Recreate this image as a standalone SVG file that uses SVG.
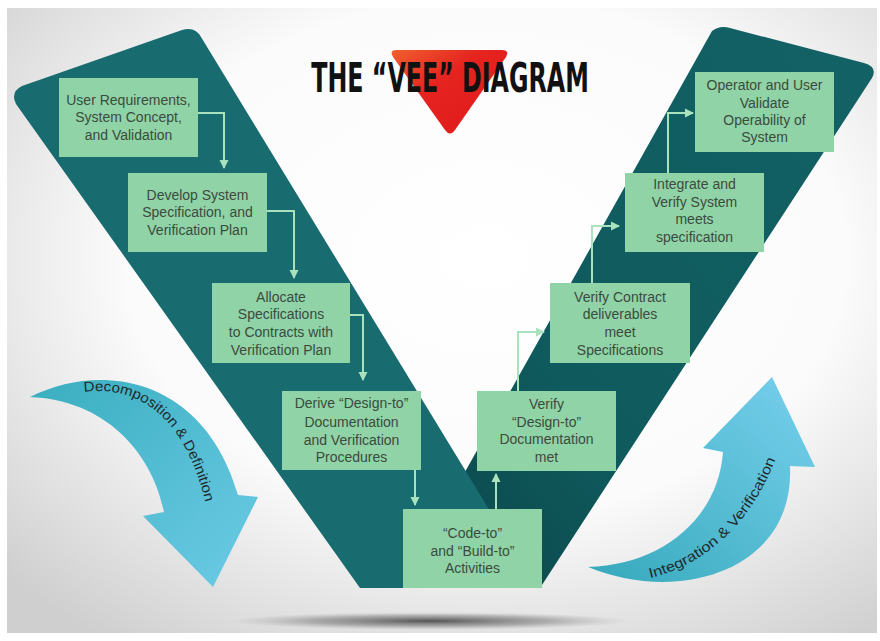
<svg xmlns="http://www.w3.org/2000/svg" width="880" height="641" viewBox="0 0 880 641">
<defs>
<radialGradient id="bg" cx="0.55" cy="0.4" r="0.75">
<stop offset="0" stop-color="#ffffff"/>
<stop offset="0.55" stop-color="#fbfbfb"/>
<stop offset="1" stop-color="#cfcfcf"/>
</radialGradient>
<radialGradient id="shadow" cx="0.5" cy="0.5" r="0.5">
<stop offset="0" stop-color="#3a3a3a" stop-opacity="0.85"/>
<stop offset="0.6" stop-color="#6a6a6a" stop-opacity="0.45"/>
<stop offset="1" stop-color="#999" stop-opacity="0"/>
</radialGradient>
<linearGradient id="rband" x1="0" y1="1" x2="1" y2="0">
<stop offset="0" stop-color="#0b4447"/>
<stop offset="0.35" stop-color="#0f5a5d"/>
<stop offset="1" stop-color="#136266"/>
</linearGradient>
<linearGradient id="red" x1="0" y1="0" x2="1" y2="1">
<stop offset="0" stop-color="#f0602e"/>
<stop offset="0.4" stop-color="#e5231f"/>
<stop offset="1" stop-color="#e01a1a"/>
</linearGradient>
<linearGradient id="decArrow" x1="0" y1="0" x2="1" y2="1">
<stop offset="0" stop-color="#3aaebf"/>
<stop offset="1" stop-color="#6ccbe6"/>
</linearGradient>
<linearGradient id="intArrow" x1="0" y1="1" x2="1" y2="0">
<stop offset="0" stop-color="#36a9bb"/>
<stop offset="1" stop-color="#78d0ee"/>
</linearGradient>
<marker id="ah" markerWidth="10" markerHeight="10" refX="8" refY="5" orient="auto" markerUnits="userSpaceOnUse">
<path d="M0,0.5 L9,5 L0,9.5 Z" fill="#a9e2bd"/>
</marker>
<path id="decPath" d="M84,392 C145,384 190,425 208,514"/>
<path id="intPath" d="M650,578 C705,565 763,520 786,425"/>
<style>
.box{fill:#90d3a6;}
.bt{font-family:"Liberation Sans","DejaVu Sans",sans-serif;font-size:14px;fill:#3b4b3e;text-anchor:middle;}
.conn{fill:none;stroke:#a9e2bd;stroke-width:2;marker-end:url(#ah);}
.at{font-family:"Liberation Sans","DejaVu Sans",sans-serif;font-size:14px;fill:#1e2a2c;}
</style>
</defs>

<rect x="0" y="0" width="880" height="641" fill="#ffffff"/>
<rect x="7" y="8" width="870" height="625" fill="url(#bg)"/>
<ellipse cx="430" cy="621" rx="200" ry="9" fill="url(#shadow)"/>

<g id="title">
<path d="M396,50 L502,50 Q510,50 506,57 L455,130 Q450,137 445,130 L393,57 Q389,50 396,50 Z" fill="url(#red)"/>
<text transform="translate(450,92) scale(0.66,1)" x="0" y="0" text-anchor="middle" style="font-family:'DejaVu Sans Condensed','Liberation Sans',sans-serif;font-weight:bold;font-size:40px;fill:#111;">THE “VEE” DIAGRAM</text>
</g>

<g id="right-band">
<path d="M712,31 Q720,25 730,28 L864,63 Q878,67 872,78 L540,588 L400,588 Z" fill="url(#rband)"/>
</g>
<g id="left-band">
<path d="M22,86 L182,30 Q195,26 201,37 L537,588 L360,588 L16,104 Q10,92 22,86 Z" fill="#186b6e"/>
</g>

<g id="decomposition-arrow">
<path d="M30,397 C105,360 205,380 238,495 L258,497 L213,587 L143,516 L164,512 C152,452 105,400 30,397 Z" fill="url(#decArrow)"/>
<text class="at"><textPath href="#decPath" textLength="182" lengthAdjust="spacingAndGlyphs">Decomposition &amp; Definition</textPath></text>
</g>

<g id="integration-arrow">
<path d="M588,567 C680,605 795,570 790,466 L815,467 L772,377 L703,448 L723,452 C718,520 660,565 588,567 Z" fill="url(#intArrow)"/>
<text class="at"><textPath href="#intPath" textLength="180" lengthAdjust="spacingAndGlyphs">Integration &amp; Verification</textPath></text>
</g>

<g id="connectors">
<path class="conn" d="M198,113 H224 V168"/>
<path class="conn" d="M267,211 H294 V278"/>
<path class="conn" d="M350,315 H363 V380"/>
<path class="conn" d="M415,470 V505"/>
<path class="conn" d="M496,509 V474"/>
<path class="conn" d="M518,391 V332 H544"/>
<path class="conn" d="M592,283 V226 H619"/>
<path class="conn" d="M668,173 V113 H693"/>
</g>

<g id="n1">
<rect class="box" x="59" y="78" width="139" height="79"/>
<text class="bt" x="128.5" y="105">User Requirements,</text>
<text class="bt" x="128.5" y="122">System Concept,</text>
<text class="bt" x="128.5" y="140">and Validation</text>
</g>
<g id="n2">
<rect class="box" x="128" y="173" width="139" height="79"/>
<text class="bt" x="197.5" y="200">Develop System</text>
<text class="bt" x="197.5" y="217">Specification, and</text>
<text class="bt" x="197.5" y="235">Verification Plan</text>
</g>
<g id="n3">
<rect class="box" x="212" y="283" width="138" height="80"/>
<text class="bt" x="281" y="302">Allocate</text>
<text class="bt" x="281" y="319">Specifications</text>
<text class="bt" x="281" y="337">to Contracts with</text>
<text class="bt" x="281" y="355">Verification Plan</text>
</g>
<g id="n4">
<rect class="box" x="282" y="391" width="139" height="79"/>
<text class="bt" x="351.5" y="408">Derive “Design-to”</text>
<text class="bt" x="351.5" y="427">Documentation</text>
<text class="bt" x="351.5" y="445">and Verification</text>
<text class="bt" x="351.5" y="462">Procedures</text>
</g>
<g id="n5">
<rect class="box" x="403" y="509" width="139" height="79"/>
<text class="bt" x="472.5" y="538">“Code-to”</text>
<text class="bt" x="472.5" y="556">and “Build-to”</text>
<text class="bt" x="472.5" y="573">Activities</text>
</g>
<g id="n6">
<rect class="box" x="477" y="391" width="139" height="80"/>
<text class="bt" x="546.5" y="409">Verify</text>
<text class="bt" x="546.5" y="427">“Design-to”</text>
<text class="bt" x="546.5" y="444">Documentation</text>
<text class="bt" x="546.5" y="462">met</text>
</g>
<g id="n7">
<rect class="box" x="550" y="283" width="140" height="80"/>
<text class="bt" x="620" y="302">Verify Contract</text>
<text class="bt" x="620" y="319">deliverables</text>
<text class="bt" x="620" y="337">meet</text>
<text class="bt" x="620" y="355">Specifications</text>
</g>
<g id="n8">
<rect class="box" x="625" y="173" width="139" height="79"/>
<text class="bt" x="694.5" y="189">Integrate and</text>
<text class="bt" x="694.5" y="207">Verify System</text>
<text class="bt" x="694.5" y="224">meets</text>
<text class="bt" x="694.5" y="242">specification</text>
</g>
<g id="n9">
<rect class="box" x="695" y="72" width="139" height="80"/>
<text class="bt" x="764.5" y="90">Operator and User</text>
<text class="bt" x="764.5" y="107.5">Validate</text>
<text class="bt" x="764.5" y="124.5">Operability of</text>
<text class="bt" x="764.5" y="142">System</text>
</g>
</svg>
